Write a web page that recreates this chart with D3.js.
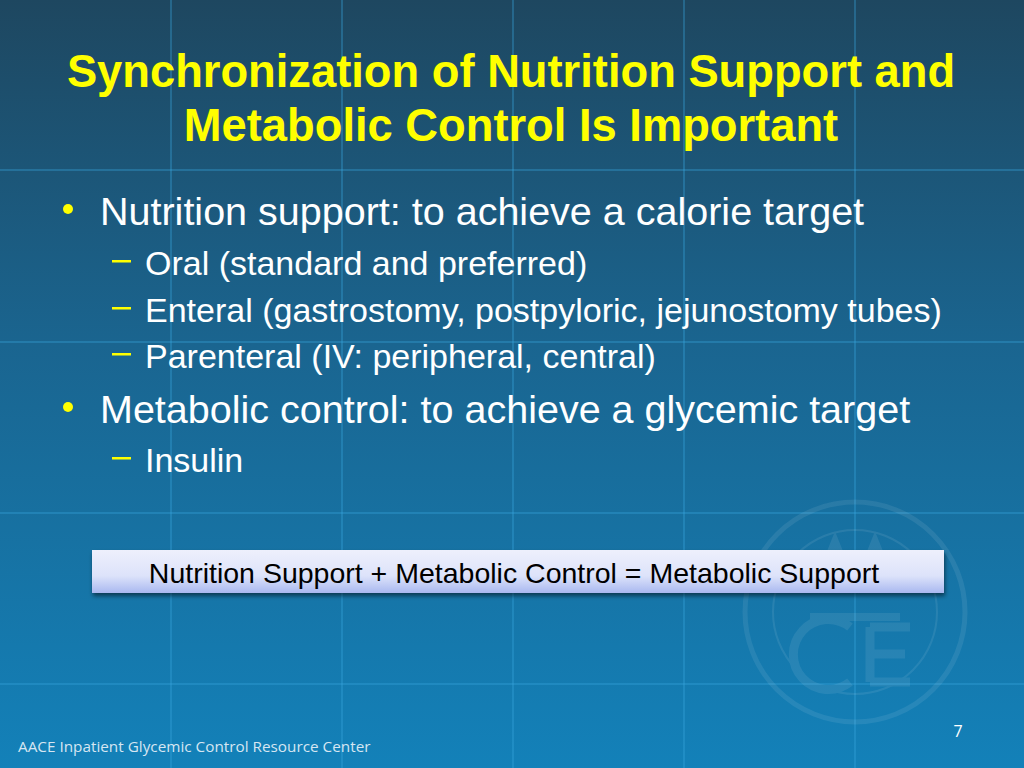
<!DOCTYPE html>
<html><head><meta charset="utf-8">
<script src="https://cdn.jsdelivr.net/npm/d3@7"></script>
<style>body{margin:0;overflow:hidden} text.s{font-family:Arial, Helvetica, "Liberation Sans", sans-serif}</style>
</head><body>
<svg id="slide" width="1024" height="768"></svg>
<script>
var titleLines = ["Synchronization of Nutrition Support and", "Metabolic Control Is Important"]
var bullets = [
  {level:1, text:"Nutrition support: to achieve a calorie target"},
  {level:2, text:"Oral (standard and preferred)"},
  {level:2, text:"Enteral (gastrostomy, postpyloric, jejunostomy tubes)"},
  {level:2, text:"Parenteral (IV: peripheral, central)"},
  {level:1, text:"Metabolic control: to achieve a glycemic target"},
  {level:2, text:"Insulin"}
]
var bulletY = [225, 275, 322, 368, 423, 472]
var boxText = "Nutrition Support + Metabolic Control = Metabolic Support"
var footer = "AACE Inpatient Glycemic Control Resource Center"
var pageNum = "7"
var gridX = [171, 342, 513, 684, 855]
var gridY = [170, 342, 513, 684]

var svg = d3.select("#slide")
var defs = svg.append("defs")
var bg = defs.append("linearGradient").attr("id","bg").attr("x1",0).attr("y1",0).attr("x2",0).attr("y2",1)
bg.append("stop").attr("offset","0%").attr("stop-color","#1e4760")
bg.append("stop").attr("offset","45%").attr("stop-color","#1a6590")
bg.append("stop").attr("offset","100%").attr("stop-color","#1381b9")
var bx = defs.append("linearGradient").attr("id","box").attr("x1",0).attr("y1",0).attr("x2",0).attr("y2",1)
bx.append("stop").attr("offset","0%").attr("stop-color","#eef0fc")
bx.append("stop").attr("offset","60%").attr("stop-color","#dde3fa")
bx.append("stop").attr("offset","100%").attr("stop-color","#a9b8f0")
var sh = defs.append("filter").attr("id","sh").attr("x","-10%").attr("y","-30%").attr("width","120%").attr("height","170%")
sh.append("feDropShadow").attr("dx",1).attr("dy",3).attr("stdDeviation",2).attr("flood-color","#000").attr("flood-opacity",0.5)

svg.append("rect").attr("width",1024).attr("height",768).attr("fill","url(#bg)")

svg.selectAll(".gx").data(gridX).enter().append("line")
  .attr("x1",d=>d).attr("x2",d=>d).attr("y1",0).attr("y2",768)
  .attr("stroke","#3aa6e0").attr("stroke-opacity",0.45).attr("stroke-width",1.5)
svg.selectAll(".gy").data(gridY).enter().append("line")
  .attr("y1",d=>d).attr("y2",d=>d).attr("x1",0).attr("x2",1024)
  .attr("stroke","#3aa6e0").attr("stroke-opacity",0.45).attr("stroke-width",1.5)

// faint seal (drawn as shapes only)
var seal = svg.append("g").attr("transform","translate(855,612)").attr("opacity",0.08)
seal.append("circle").attr("r",110).attr("fill","none").attr("stroke","#fff").attr("stroke-width",5)
seal.append("circle").attr("r",82).attr("fill","none").attr("stroke","#fff").attr("stroke-width",2)
seal.append("path").attr("d","M-40,-20 L-20,-70 L0,-20 M0,-20 L20,-70 L40,-20 M-45,5 h90")
  .attr("fill","none").attr("stroke","#fff").attr("stroke-width",8)
seal.append("path").attr("d","M-5,15 A35,35 0 1 0 -5,70 M15,15 h40 M15,42 h35 M15,70 h40 M15,15 v55")
  .attr("fill","none").attr("stroke","#fff").attr("stroke-width",9)

svg.selectAll(".title").data(titleLines).enter().append("text").attr("class","s")
  .attr("x",511).attr("y",(d,i)=>87+i*54).attr("text-anchor","middle")
  .attr("font-weight","bold").attr("font-size",45.3).attr("fill","#ffff00").text(d=>d)

var rows = svg.selectAll(".b").data(bullets).enter().append("g")
  .attr("transform",(d,i)=>"translate(0,"+bulletY[i]+")")
rows.filter(d=>d.level==1).append("circle").attr("cx",68).attr("cy",-16).attr("r",5).attr("fill","#ffff00")
rows.filter(d=>d.level==2).append("rect").attr("x",112).attr("y",-15).attr("width",19).attr("height",2.5).attr("fill","#ffff00")
rows.append("text").attr("class","s").attr("x",d=>d.level==1?100:145).attr("y",0)
  .attr("font-size",d=>d.level==1?39.5:34).attr("fill","#ffffff").text(d=>d.text)

svg.append("rect").attr("x",92).attr("y",550).attr("width",852).attr("height",43)
  .attr("fill","url(#box)").attr("filter","url(#sh)")
svg.append("text").attr("class","s").attr("x",514).attr("y",583).attr("text-anchor","middle")
  .attr("font-size",28.5).attr("fill","#000").text(boxText)

svg.append("text").attr("x",18).attr("y",752).attr("font-family","Open Sans, Lato")
  .attr("font-size",15.3).attr("fill","#d6e6f2").text(footer)
svg.append("text").attr("x",958).attr("y",737).attr("text-anchor","middle").attr("font-family","Open Sans")
  .attr("font-size",16).attr("fill","#fff").text(pageNum)
</script>
</body></html>
